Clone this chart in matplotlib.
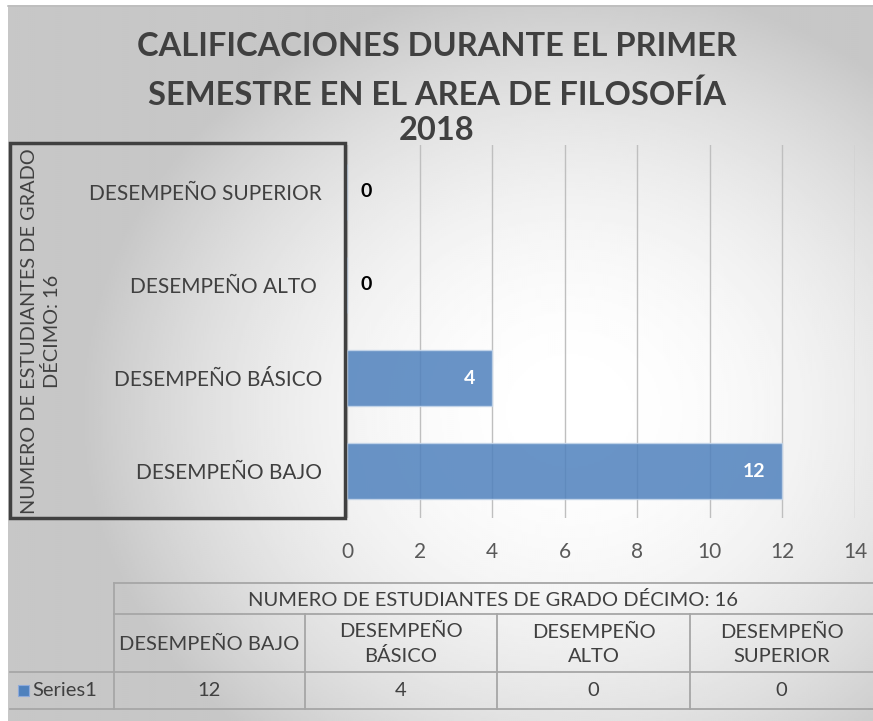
import matplotlib.pyplot as plt
import numpy as np
from matplotlib.patches import Rectangle
from matplotlib.lines import Line2D

categories = ["DESEMPEÑO BAJO", "DESEMPEÑO BÁSICO", "DESEMPEÑO ALTO ", "DESEMPEÑO SUPERIOR"]
table_headers = ["DESEMPEÑO BAJO", "DESEMPEÑO\nBÁSICO", "DESEMPEÑO\nALTO", "DESEMPEÑO\nSUPERIOR"]
values = [12, 4, 0, 0]
series_name = "Series1"
axis_title = "NUMERO DE ESTUDIANTES DE GRADO DÉCIMO: 16"
title_lines = ["CALIFICACIONES DURANTE EL PRIMER", "SEMESTRE EN EL AREA DE FILOSOFÍA", "2018"]

W, H = 873, 721
plt.rcParams['font.family'] = ['Lato', 'DejaVu Sans']

fig = plt.figure(figsize=(W / 100, H / 100), dpi=100)


def fx(px):
    return px / W


def fy(py):
    return 1 - py / H


# radial grey background of the chart area
bg = fig.add_axes([fx(8), 0, fx(W - 8), fy(5)], zorder=-5)
yy, xx = np.mgrid[5:H:2, 8:W:2]
r = np.sqrt(((xx - 570) / 430.0) ** 2 + ((yy - 410) / 380.0) ** 2)
shade = np.clip(1 - 0.17 * r ** 2, 0.78, 1.0)
bg.imshow(shade, cmap='gray', vmin=0, vmax=1, aspect='auto',
          extent=[0, 1, 0, 1], interpolation='bilinear')
bg.axis('off')
fig.add_artist(Line2D([fx(8), 1], [fy(5.5), fy(5.5)], color='#BDBDBD', lw=1.2))

# clipped text at the very top
fig.text(fx(483), fy(-9), "p", ha='center', va='baseline', fontsize=14, color='black')

# main bar chart
ax = fig.add_axes([fx(347), fy(518), fx(855 - 347), (518 - 145) / H])
ax.set_facecolor('none')
y = np.arange(len(categories))
bars = ax.barh(y, values, height=0.6, color='#4F81BD', alpha=0.85,
               edgecolor='#C5D6EA', linewidth=1, zorder=3)
ax.set_xlim(0, 14)
ax.set_ylim(-0.5, len(categories) - 0.5)
ax.set_xticks(np.arange(0, 15, 2))
ax.set_yticks(y, categories)
ax.grid(axis='x', color='#BFBFBF', lw=1, zorder=0)
for s in ax.spines.values():
    s.set_visible(False)
ax.tick_params(length=0)
ax.tick_params(axis='x', pad=17, labelsize=15, labelcolor='#595959')
ax.tick_params(axis='y', pad=18, labelsize=15, labelcolor='#404040')

for rect, v in zip(bars, values):
    yc = rect.get_y() + rect.get_height() / 2
    if v > 0:
        ax.annotate(str(v), (v, yc), xytext=(-12, 0), textcoords='offset points',
                    ha='right', va='center', color='white', fontsize=14, fontweight='bold')
    else:
        ax.annotate(str(v), (v, yc), xytext=(10, 0), textcoords='offset points',
                    ha='left', va='center', color='black', fontsize=14, fontweight='bold')

# dark frame around the category axis
fig.add_artist(Rectangle((fx(10), fy(518)), fx(345 - 10), (518 - 143) / H,
                         fill=False, ec='#404040', lw=2.5))
fig.text(fx(41), fy(331), "NUMERO DE ESTUDIANTES DE GRADO\nDÉCIMO: 16", rotation=90,
         ha='center', va='center', fontsize=14.3, color='#404040', linespacing=1.3)

# title
for line, py in zip(title_lines, [47, 95, 131]):
    fig.text(fx(437), fy(py), line, ha='center', va='center', fontsize=23.5,
             fontweight='bold', color='#404040')

# data table
lc = '#A6A6A6'
cols = [114, 305, 497, 690, 873]
rows = [583, 614, 672, 709]


def hline(x0, x1, py):
    fig.add_artist(Line2D([fx(x0), fx(x1)], [fy(py), fy(py)], color=lc, lw=1.3))


def vline(px, y0, y1):
    fig.add_artist(Line2D([fx(px), fx(px)], [fy(y0), fy(y1)], color=lc, lw=1.3))


hline(114, 873, rows[0])
hline(114, 873, rows[1])
hline(10, 873, rows[2])
hline(10, 873, rows[3])
vline(114, rows[0], rows[3])
for c in cols[1:-1]:
    vline(c, rows[1], rows[3])

tkw = dict(ha='center', va='center', fontsize=14.5, color='#404040')
fig.text(fx((114 + 873) / 2), fy((rows[0] + rows[1]) / 2 + 1), axis_title, **tkw)
for i, (hd, v) in enumerate(zip(table_headers, values)):
    xc = (cols[i] + cols[i + 1]) / 2
    fig.text(fx(xc), fy((rows[1] + rows[2]) / 2 + 1), hd, linespacing=1.5, **tkw)
    fig.text(fx(xc), fy((rows[2] + rows[3]) / 2), str(v), **tkw)

fig.add_artist(Rectangle((fx(18), fy(696)), fx(11), 11 / H, fc='#4F81BD', ec='#8EAADB', lw=0.8))
fig.text(fx(32), fy((rows[2] + rows[3]) / 2), series_name, ha='left', va='center',
         fontsize=14.5, color='#404040')

fig.savefig("out.png", dpi=100)
